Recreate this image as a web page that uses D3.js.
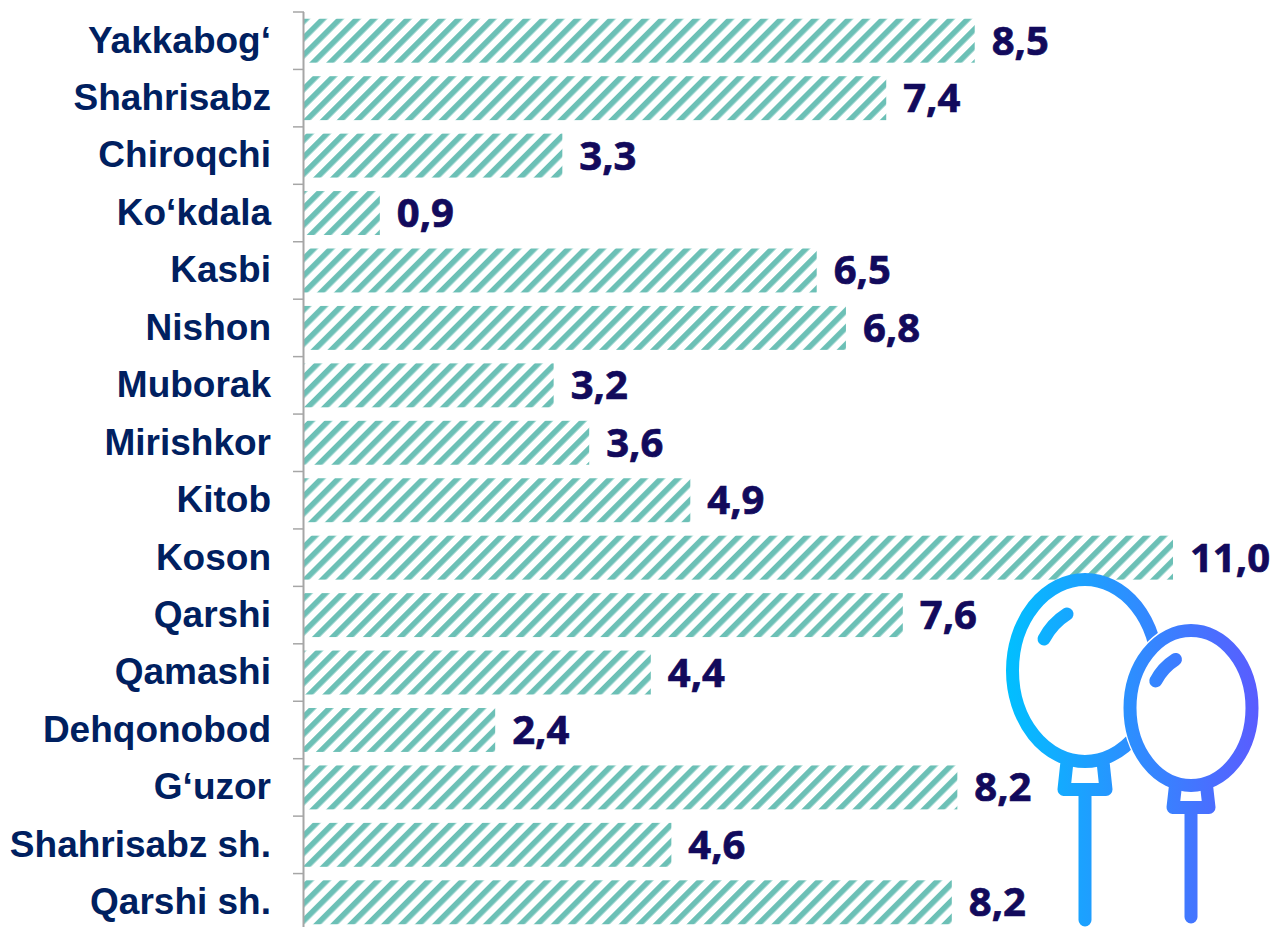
<!DOCTYPE html>
<html>
<head>
<meta charset="utf-8">
<script src="https://cdn.jsdelivr.net/npm/d3@7"></script>
<style>
  html, body { margin: 0; padding: 0; background: #fff; overflow: hidden; }
  svg { display: block; }
</style>
</head>
<body>
<div id="chart"></div>
<script>
// Data
const districts = ["Yakkabog‘", "Shahrisabz", "Chiroqchi", "Ko‘kdala", "Kasbi", "Nishon", "Muborak", "Mirishkor",
    "Kitob", "Koson", "Qarshi", "Qamashi", "Dehqonobod", "G‘uzor", "Shahrisabz sh.", "Qarshi sh."];
// bar lengths carry more digits than the printed labels
const values = [8.49, 7.37, 3.27, 0.96, 6.49, 6.86, 3.16, 3.61, 4.89, 11.0, 7.58, 4.39, 2.42, 8.27, 4.65, 8.2];
const valueLabels = ["8,5", "7,4", "3,3", "0,9", "6,5", "6,8", "3,2", "3,6", "4,9", "11,0", "7,6", "4,4", "2,4", "8,2", "4,6", "8,2"];

const width = 1276;
const height = 927;
const margins = {top: 12, right: 0, bottom: -4, left: 304};

const svg = d3.select("#chart")
    .append("svg")
    .attr("width", width)
    .attr("height", height);

const defs = svg.append("defs");

// Diagonal hatch for the bars
const hatch = defs.append("pattern")
    .attr("id", "hatch")
    .attr("patternUnits", "userSpaceOnUse")
    .attr("patternTransform", "translate(304,0) rotate(45)")
    .attr("width", 12)
    .attr("height", 12);
hatch.append("rect")
    .attr("width", 12)
    .attr("height", 12)
    .attr("fill", "#ffffff");
hatch.append("rect")
    .attr("width", 5.6)
    .attr("height", 12)
    .attr("fill", "#6cc0b6");

// Gradient shared by both balloons
const grad = defs.append("linearGradient")
    .attr("id", "balloonGrad")
    .attr("gradientUnits", "userSpaceOnUse")
    .attr("x1", 1005).attr("y1", 0)
    .attr("x2", 1258).attr("y2", 0);
grad.append("stop").attr("offset", "0%").attr("stop-color", "#00c0ff");
grad.append("stop").attr("offset", "100%").attr("stop-color", "#5a5cff");

// Scales
const yScale = d3.scaleBand()
    .domain(districts)
    .range([margins.top, height - margins.bottom])
    .paddingInner(0.235)
    .paddingOuter(0.1175);
const xScale = d3.scaleLinear()
    .domain([0, 11])
    .range([margins.left, 1173]);

// Bars
svg.selectAll(".bar")
    .data(values)
    .enter()
    .append("rect")
    .attr("class", "bar")
    .attr("x", xScale(0))
    .attr("y", (d, i) => yScale(districts[i]))
    .attr("width", d => xScale(d) - xScale(0))
    .attr("height", yScale.bandwidth())
    .attr("fill", "url(#hatch)");

// Category axis, labels only
const yAxis = svg.append("g")
    .attr("transform", `translate(${margins.left},0)`)
    .call(d3.axisLeft(yScale).tickSize(0).tickPadding(33));
yAxis.select(".domain").remove();
yAxis.selectAll("text")
    .attr("font-family", "'Liberation Sans', Arial, sans-serif")
    .attr("font-weight", "bold")
    .attr("font-size", 37)
    .attr("fill", "#002060");

// Axis line and ticks sit on the band edges
const step = yScale.step();
const edges = d3.range(districts.length).map(i => margins.top + i * step);
svg.selectAll(".tick-mark")
    .data(edges)
    .enter()
    .append("line")
    .attr("class", "tick-mark")
    .attr("x1", 293)
    .attr("x2", margins.left)
    .attr("y1", d => d)
    .attr("y2", d => d)
    .attr("stroke", "#a6a6a6")
    .attr("stroke-width", 1.5);
svg.append("line")
    .attr("x1", margins.left - 0.5)
    .attr("x2", margins.left - 0.5)
    .attr("y1", margins.top)
    .attr("y2", height)
    .attr("stroke", "#a6a6a6")
    .attr("stroke-width", 2);

// Value labels, thin stroke makes them as heavy as the original
svg.selectAll(".value")
    .data(values)
    .enter()
    .append("text")
    .attr("class", "value")
    .attr("x", d => xScale(d) + 17)
    .attr("y", (d, i) => yScale(districts[i]) + yScale.bandwidth() / 2 + 14)
    .attr("font-family", "'Open Sans', 'Noto Sans', sans-serif")
    .attr("font-weight", "bold")
    .attr("font-size", 40)
    .attr("fill", "#120a5c")
    .attr("stroke", "#120a5c")
    .attr("stroke-width", 0.7)
    .text((d, i) => valueLabels[i]);

// Balloons decoration
const balloons = svg.append("g")
    .attr("fill", "none")
    .attr("stroke", "url(#balloonGrad)")
    .attr("stroke-width", 13)
    .attr("stroke-linecap", "round")
    .attr("stroke-linejoin", "round");

function drawBalloon(cx, cy, rx, ry, stringEnd, neckW, knotW, neckH, s) {
    const neckTop = cy + ry;
    balloons.append("path")
        .attr("d", `M${cx - neckW},${neckTop} L${cx - knotW},${neckTop + neckH} L${cx + knotW},${neckTop + neckH} L${cx + neckW},${neckTop}`);
    balloons.append("ellipse")
        .attr("cx", cx).attr("cy", cy)
        .attr("rx", rx).attr("ry", ry)
        .attr("fill", "#ffffff");
    balloons.append("line")
        .attr("x1", cx).attr("x2", cx + 0.01)
        .attr("y1", neckTop + neckH)
        .attr("y2", stringEnd);
    // highlight on the upper left
    balloons.append("path")
        .attr("d", `M${cx - 41 * s},${cy - 31.5 * s} Q${cx - 33 * s},${cy - 47 * s} ${cx - 18 * s},${cy - 56.5 * s}`);
}

drawBalloon(1085, 670.5, 72.5, 91, 920, 18, 21, 28, 1);

// white halo keeps the small balloon clear of the big one
balloons.append("ellipse")
    .attr("cx", 1191).attr("cy", 708)
    .attr("rx", 69).attr("ry", 85.5)
    .attr("stroke", "none")
    .attr("fill", "#ffffff");
drawBalloon(1191, 708, 61, 77.5, 917, 15.5, 18, 22, 0.86);
</script>
</body>
</html>
